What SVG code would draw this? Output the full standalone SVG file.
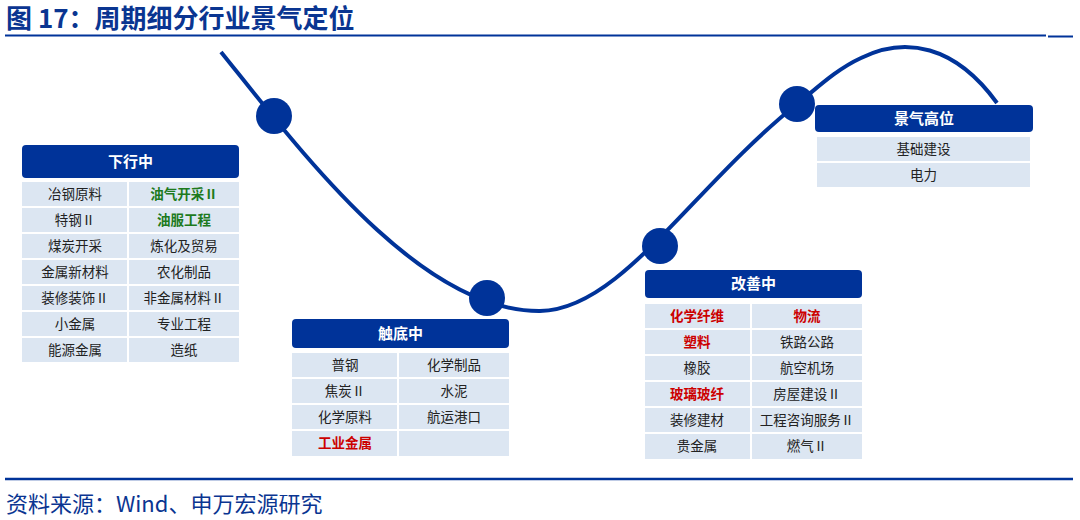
<svg xmlns="http://www.w3.org/2000/svg" width="1080" height="520" viewBox="0 0 1080 520">
<style>
.t{font-family:"Noto Sans CJK SC","Liberation Sans",sans-serif;}
.title{font-size:26px;font-weight:bold;fill:#0a3591;}
.hd{fill:#003399;}
.hdt{font-size:15px;font-weight:bold;fill:#fff;text-anchor:middle;}
.cell{fill:#dce6f2;}
.ct{font-size:13.5px;fill:#222;text-anchor:middle;}
.g{fill:#1d7a1d;font-weight:bold;}
.r{fill:#cc0000;font-weight:bold;}
.dot{fill:#003399;}
</style>
<rect width="1080" height="520" fill="#fff"/>
<text class="t title" x="6" y="28">图 17：周期细分行业景气定位</text>
<line x1="5" y1="35.5" x2="1046" y2="35.5" stroke="#003399" stroke-width="2"/>
<line x1="1048" y1="36.5" x2="1073" y2="36.5" stroke="#003399" stroke-width="2"/>
<g id="connectors">
<path d="M221,52 C300,150 420,312 540,311 C620,310 690,190 797,104 C815,90 835,70 861,58 C905,36 955,45 997,103" fill="none" stroke="#003399" stroke-width="4"/>
</g>
<g id="dots">
<circle class="dot" cx="274" cy="116" r="18"/>
<circle class="dot" cx="487" cy="298" r="18"/>
<circle class="dot" cx="660" cy="246" r="18"/>
<circle class="dot" cx="797" cy="104" r="18"/>
</g>
<g id="down" class="t">
<rect class="hd" x="22" y="145" width="217" height="33" rx="4"/>
<text class="hdt" x="130.5" y="167">下行中</text>
<g>
<rect class="cell" x="22" y="182" width="105" height="24"/><rect class="cell" x="129" y="182" width="110" height="24"/>
<rect class="cell" x="22" y="208" width="105" height="24"/><rect class="cell" x="129" y="208" width="110" height="24"/>
<rect class="cell" x="22" y="234" width="105" height="24"/><rect class="cell" x="129" y="234" width="110" height="24"/>
<rect class="cell" x="22" y="260" width="105" height="24"/><rect class="cell" x="129" y="260" width="110" height="24"/>
<rect class="cell" x="22" y="286" width="105" height="24"/><rect class="cell" x="129" y="286" width="110" height="24"/>
<rect class="cell" x="22" y="312" width="105" height="24"/><rect class="cell" x="129" y="312" width="110" height="24"/>
<rect class="cell" x="22" y="338" width="105" height="24"/><rect class="cell" x="129" y="338" width="110" height="24"/>
</g>
<text class="ct" x="75" y="199">冶钢原料</text><text class="ct g" x="184" y="199">油气开采Ⅱ</text>
<text class="ct" x="75" y="225">特钢Ⅱ</text><text class="ct g" x="184" y="225">油服工程</text>
<text class="ct" x="75" y="251">煤炭开采</text><text class="ct" x="184" y="251">炼化及贸易</text>
<text class="ct" x="75" y="277">金属新材料</text><text class="ct" x="184" y="277">农化制品</text>
<text class="ct" x="75" y="303">装修装饰Ⅱ</text><text class="ct" x="184" y="303">非金属材料Ⅱ</text>
<text class="ct" x="75" y="329">小金属</text><text class="ct" x="184" y="329">专业工程</text>
<text class="ct" x="75" y="355">能源金属</text><text class="ct" x="184" y="355">造纸</text>
</g>
<g id="bottom" class="t">
<rect class="hd" x="292" y="319" width="217" height="29" rx="4"/>
<text class="hdt" x="400.5" y="339">触底中</text>
<rect class="cell" x="292" y="353" width="105" height="24"/><rect class="cell" x="399" y="353" width="110" height="24"/>
<rect class="cell" x="292" y="379" width="105" height="24"/><rect class="cell" x="399" y="379" width="110" height="24"/>
<rect class="cell" x="292" y="405" width="105" height="24"/><rect class="cell" x="399" y="405" width="110" height="24"/>
<rect class="cell" x="292" y="431" width="105" height="25"/><rect class="cell" x="399" y="431" width="110" height="25"/>
<text class="ct" x="345" y="370">普钢</text><text class="ct" x="454" y="370">化学制品</text>
<text class="ct" x="345" y="396">焦炭Ⅱ</text><text class="ct" x="454" y="396">水泥</text>
<text class="ct" x="345" y="422">化学原料</text><text class="ct" x="454" y="422">航运港口</text>
<text class="ct r" x="345" y="448">工业金属</text>
</g>
<g id="improve" class="t">
<rect class="hd" x="645" y="270" width="217" height="28" rx="4"/>
<text class="hdt" x="753.5" y="289">改善中</text>
<rect class="cell" x="645" y="304" width="105" height="24"/><rect class="cell" x="752" y="304" width="110" height="24"/>
<rect class="cell" x="645" y="330" width="105" height="24"/><rect class="cell" x="752" y="330" width="110" height="24"/>
<rect class="cell" x="645" y="356" width="105" height="24"/><rect class="cell" x="752" y="356" width="110" height="24"/>
<rect class="cell" x="645" y="382" width="105" height="24"/><rect class="cell" x="752" y="382" width="110" height="24"/>
<rect class="cell" x="645" y="408" width="105" height="24"/><rect class="cell" x="752" y="408" width="110" height="24"/>
<rect class="cell" x="645" y="434" width="105" height="25"/><rect class="cell" x="752" y="434" width="110" height="25"/>
<text class="ct r" x="697" y="321">化学纤维</text><text class="ct r" x="807" y="321">物流</text>
<text class="ct r" x="697" y="347">塑料</text><text class="ct" x="807" y="347">铁路公路</text>
<text class="ct" x="697" y="373">橡胶</text><text class="ct" x="807" y="373">航空机场</text>
<text class="ct r" x="697" y="399">玻璃玻纤</text><text class="ct" x="807" y="399">房屋建设Ⅱ</text>
<text class="ct" x="697" y="425">装修建材</text><text class="ct" x="807" y="425">工程咨询服务Ⅱ</text>
<text class="ct" x="697" y="451">贵金属</text><text class="ct" x="807" y="451">燃气Ⅱ</text>
</g>
<g id="high" class="t">
<rect class="hd" x="815" y="105" width="218" height="27" rx="4"/>
<text class="hdt" x="924" y="124">景气高位</text>
<rect class="cell" x="817" y="137" width="213" height="24"/>
<rect class="cell" x="817" y="163" width="213" height="24"/>
<text class="ct" x="923.5" y="154">基础建设</text>
<text class="ct" x="923.5" y="180">电力</text>
</g>
<line x1="5" y1="479" x2="1073" y2="479" stroke="#003399" stroke-width="2.5"/>
<text class="t" x="6" y="512" font-size="22" fill="#0a3591">资料来源：Wind、申万宏源研究</text>
</svg>
